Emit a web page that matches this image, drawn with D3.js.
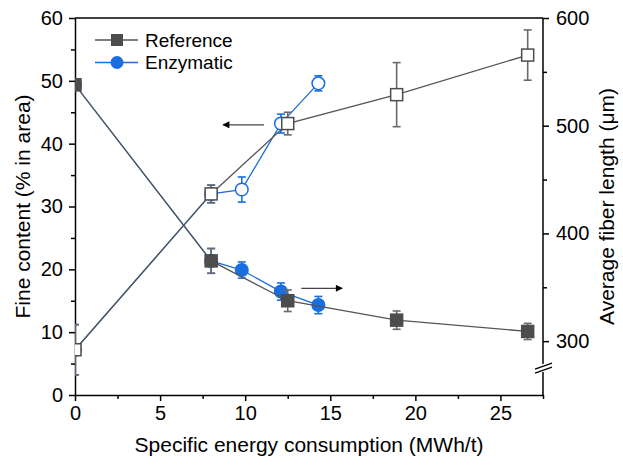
<!DOCTYPE html>
<html lang="en">
<head>
  <meta charset="UTF-8">
  <title>Fine content and fiber length</title>
  <script src="https://d3js.org/d3.v7.min.js"></script>
  <style>
    body { margin: 0; background: #fff; }
    svg text { font-family: "Liberation Sans", Arial, sans-serif; fill: #000; }
    .axis path, .axis line { stroke: #000; stroke-width: 1.5px; }
    .axis text { font-size: 20px; }
    .title { font-size: 21px; }
    .legend text { font-size: 19px; }
  </style>
</head>
<body>
  <svg width="623" height="466"></svg>
  <script>
    // specific energy consumption (MWh/t)
    const energyRef = [0, 8.0, 12.5, 18.9, 26.6];
    const energyEnz = [0, 8.0, 9.8, 12.1, 14.3];

    // fine content (% in area), left axis, open symbols
    const finesRef = [7.2, 32.0, 43.2, 47.8, 54.1];
    const finesRefErr = [4.0, 1.4, 1.8, 5.1, 4.0];
    const finesEnz = [7.2, 32.0, 32.7, 43.2, 49.6];
    const finesEnzErr = [4.0, 1.4, 2.0, 1.5, 1.2];

    // average fiber length (µm), right axis, filled symbols
    const lengthRef = [538, 374.5, 337.5, 319.5, 309];
    const lengthRefErr = [2, 11.5, 10, 8.5, 7.5];
    const lengthEnz = [538, 374.5, 366, 346, 333.5];
    const lengthEnzErr = [2, 11.5, 7.5, 8, 8];

    const xTicks = [0, 5, 10, 15, 20, 25];
    const xMinor = [2.5, 7.5, 12.5, 17.5, 22.5, 27.5];
    const yLeftTicks = [0, 10, 20, 30, 40, 50, 60];
    const yLeftMinor = [5, 15, 25, 35, 45, 55];
    const yRightTicks = [300, 400, 500, 600];
    const yRightMinor = [350, 450, 550];
    const seriesNames = ["Reference", "Enzymatic"];

    const grey = "#4d4d4d", lineGrey = "#555", errGrey = "#6a6a6a", blue = "#1a6ee0";

    const svg = d3.select("svg");
    const pLeft = 75, pRight = 543, pTop = 18, pBottom = 395;

    const x = d3.scaleLinear().domain([0, 27.5]).range([pLeft, pRight]);
    const yL = d3.scaleLinear().domain([0, 60]).range([pBottom, pTop]);
    const yR = d3.scaleLinear().domain([250, 600]).range([pBottom, pTop]);

    svg.append("clipPath").attr("id", "plot")
      .append("rect").attr("x", pLeft).attr("y", 0).attr("width", pRight - pLeft).attr("height", pBottom + 5);

    // minor ticks first
    const minor = svg.append("g").attr("class", "axis");
    minor.append("g").attr("transform", `translate(0,${pBottom})`)
      .call(d3.axisBottom(x).tickValues(xMinor).tickSize(4).tickFormat(""));
    minor.append("g").attr("transform", `translate(${pLeft},0)`)
      .call(d3.axisLeft(yL).tickValues(yLeftMinor).tickSize(4).tickFormat(""));
    minor.append("g").attr("transform", `translate(${pRight},0)`)
      .call(d3.axisRight(yR).tickValues(yRightMinor).tickSize(4).tickFormat(""));
    minor.selectAll("path").remove();

    svg.append("g").attr("class", "axis")
      .attr("transform", `translate(0,${pBottom})`)
      .call(d3.axisBottom(x).tickValues(xTicks).tickSize(6).tickPadding(5).tickSizeOuter(0));

    svg.append("g").attr("class", "axis")
      .attr("transform", `translate(${pLeft},0)`)
      .call(d3.axisLeft(yL).tickValues(yLeftTicks).tickSize(6).tickPadding(6).tickSizeOuter(0));

    const rAxis = svg.append("g").attr("class", "axis")
      .attr("transform", `translate(${pRight},0)`)
      .call(d3.axisRight(yR).tickValues(yRightTicks).tickSize(6).tickPadding(7).tickSizeOuter(0));
    rAxis.select("path").remove();
    // right axis with a break near the bottom
    const brk = yR(275);
    svg.append("line").attr("x1", pRight).attr("x2", pRight).attr("y1", pTop).attr("y2", brk - 4)
      .attr("stroke", "#000").attr("stroke-width", 1.5);
    svg.append("line").attr("x1", pRight).attr("x2", pRight).attr("y1", brk + 4).attr("y2", pBottom)
      .attr("stroke", "#000").attr("stroke-width", 1.5);
    [-2, 2].forEach(o => {
      svg.append("line")
        .attr("x1", pRight - 8).attr("y1", brk + o + 3)
        .attr("x2", pRight + 9).attr("y2", brk + o - 3)
        .attr("stroke", "#000").attr("stroke-width", 1.3);
    });

    // top frame line
    svg.append("line").attr("x1", pLeft).attr("x2", pRight).attr("y1", pTop).attr("y2", pTop)
      .attr("stroke", "#000").attr("stroke-width", 1.5);

    const plot = svg.append("g").attr("clip-path", "url(#plot)");

    function series(xs, ys, errs, yScale, color, errColor, shape, filled) {
      const pts = xs.map((v, i) => ({ x: v, y: ys[i], e: errs[i] }));
      const g = plot.append("g");
      g.append("path").datum(pts)
        .attr("fill", "none").attr("stroke", color === blue ? blue : lineGrey).attr("stroke-width", 1.3)
        .attr("d", d3.line().x(d => x(d.x)).y(d => yScale(d.y)));
      const eb = g.selectAll(".eb").data(pts).join("g")
        .attr("stroke", errColor).attr("stroke-width", 1.6);
      eb.append("line").attr("x1", d => x(d.x)).attr("x2", d => x(d.x))
        .attr("y1", d => yScale(d.y - d.e)).attr("y2", d => yScale(d.y + d.e));
      eb.append("line").attr("x1", d => x(d.x) - 4).attr("x2", d => x(d.x) + 4)
        .attr("y1", d => yScale(d.y - d.e)).attr("y2", d => yScale(d.y - d.e));
      eb.append("line").attr("x1", d => x(d.x) - 4).attr("x2", d => x(d.x) + 4)
        .attr("y1", d => yScale(d.y + d.e)).attr("y2", d => yScale(d.y + d.e));
      const m = g.selectAll(".m").data(pts).join(shape === "square" ? "rect" : "circle")
        .attr("fill", filled ? color : "#fff").attr("stroke", color).attr("stroke-width", 1.5);
      if (shape === "square") {
        m.attr("x", d => x(d.x) - 6).attr("y", d => yScale(d.y) - 6).attr("width", 12).attr("height", 12);
      } else {
        m.attr("cx", d => x(d.x)).attr("cy", d => yScale(d.y)).attr("r", 6.3);
      }
    }

    series(energyEnz, finesEnz, finesEnzErr, yL, blue, blue, "circle", false);
    series(energyEnz, lengthEnz, lengthEnzErr, yR, blue, blue, "circle", true);
    series(energyRef, finesRef, finesRefErr, yL, grey, errGrey, "square", false);
    series(energyRef, lengthRef, lengthRefErr, yR, grey, errGrey, "square", true);

    // arrows pointing to the axes
    const defs = svg.append("defs");
    defs.append("marker").attr("id", "head").attr("viewBox", "0 0 10 10")
      .attr("refX", 9).attr("refY", 5).attr("markerWidth", 9).attr("markerHeight", 7)
      .attr("markerUnits", "userSpaceOnUse").attr("orient", "auto")
      .append("path").attr("d", "M0,0L10,5L0,10Z").attr("fill", "#000");
    svg.append("line").attr("x1", x(11.1)).attr("x2", x(8.7)).attr("y1", yL(43)).attr("y2", yL(43))
      .attr("stroke", "#444").attr("stroke-width", 1.2).attr("marker-end", "url(#head)");
    svg.append("line").attr("x1", x(13.3)).attr("x2", x(15.7)).attr("y1", yR(349)).attr("y2", yR(349))
      .attr("stroke", "#444").attr("stroke-width", 1.2).attr("marker-end", "url(#head)");

    // axis titles
    svg.append("text").attr("class", "title")
      .attr("x", (pLeft + pRight) / 2).attr("y", 452).attr("text-anchor", "middle")
      .text("Specific energy consumption (MWh/t)");
    svg.append("text").attr("class", "title")
      .attr("transform", `translate(30,${(pTop + pBottom) / 2}) rotate(-90)`)
      .attr("text-anchor", "middle").text("Fine content (% in area)");
    svg.append("text").attr("class", "title")
      .attr("transform", `translate(614,${(pTop + pBottom) / 2}) rotate(-90)`)
      .attr("text-anchor", "middle").text("Average fiber length (μm)");

    // legend
    const legend = svg.append("g").attr("class", "legend");
    seriesNames.forEach((name, i) => {
      const ly = 40 + i * 22.5;
      const c = i === 0 ? grey : blue;
      legend.append("line").attr("x1", 95).attr("x2", 138).attr("y1", ly).attr("y2", ly)
        .attr("stroke", i === 0 ? lineGrey : blue).attr("stroke-width", 1.3);
      if (i === 0) {
        legend.append("rect").attr("x", 111).attr("y", ly - 6).attr("width", 12).attr("height", 12).attr("fill", c);
      } else {
        legend.append("circle").attr("cx", 117).attr("cy", ly).attr("r", 6.5).attr("fill", c);
      }
      legend.append("text").attr("x", 145).attr("y", ly + 6.5).text(name);
    });
  </script>
</body>
</html>
